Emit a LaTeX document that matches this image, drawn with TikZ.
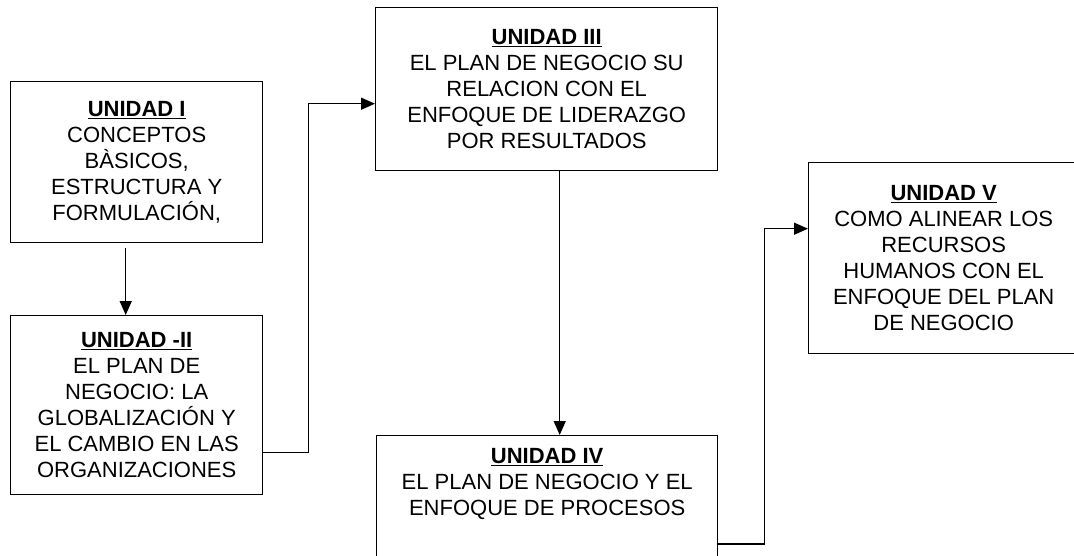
\documentclass[tikz,border=0pt]{standalone}
\usepackage{fontspec}
\setmainfont{Liberation Sans}
\usetikzlibrary{arrows.meta}

\tikzset{
  unidad/.style={draw, line width=1.4pt, inner sep=0pt, anchor=north west, align=center,
    font=\fontsize{22}{26}\selectfont},
  flecha/.style={line width=1.4pt, -{Triangle[length=14pt,width=12pt]}}
}
\newcommand{\titulo}[1]{\underline{\textbf{#1}}}

\begin{document}
\begin{tikzpicture}[x=1pt,y=-1pt]
        \useasboundingbox (0,0) rectangle (1074,555);
        \clip (0,0) rectangle (1074,555);
        %boxes
        \node [unidad, minimum width=252pt, minimum height=161pt] (I) at (10,81)
          {\titulo{UNIDAD I}\\CONCEPTOS\\BÀSICOS,\\ESTRUCTURA Y\\FORMULACIÓN,};
        \node [unidad, minimum width=252pt, minimum height=179pt] (II) at (10,315)
          {\titulo{UNIDAD -II}\\EL PLAN DE\\NEGOCIO: LA\\GLOBALIZACIÓN Y\\EL CAMBIO EN LAS\\ORGANIZACIONES};
        \node [unidad, minimum width=342pt, minimum height=163pt] (III) at (375,7)
          {\titulo{UNIDAD III}\\EL PLAN DE NEGOCIO SU\\RELACION CON EL\\ENFOQUE DE LIDERAZGO\\POR RESULTADOS};
        \node [unidad, minimum width=341pt, minimum height=150pt,
          label={[anchor=north, inner sep=0pt, yshift=-13pt, align=center,
            font=\fontsize{22}{26}\selectfont]north:{\titulo{UNIDAD IV}\\EL PLAN DE NEGOCIO Y EL\\ENFOQUE DE PROCESOS}}]
          (IV) at (376,435) {};
        \node [unidad, minimum width=270pt, minimum height=191pt] (V) at (808,162)
          {\titulo{UNIDAD V}\\COMO ALINEAR LOS\\RECURSOS\\HUMANOS CON EL\\ENFOQUE DEL PLAN\\DE NEGOCIO};

        %connectors
        \draw [flecha] ([xshift=-11pt,yshift=-5pt]I.south) -- ([xshift=-11pt]II.north);
        \draw [flecha] ([yshift=-47.5pt]II.east) -- ++(45,0) |- ([yshift=-14.5pt]III.west);
        \draw [flecha] ([xshift=13pt]III.south) -- ([xshift=12.5pt]IV.north);
        \draw [flecha] ([yshift=-109pt]IV.north east) -- ++(46,0) |- ([yshift=29.5pt]V.west);
\end{tikzpicture}
\end{document}
